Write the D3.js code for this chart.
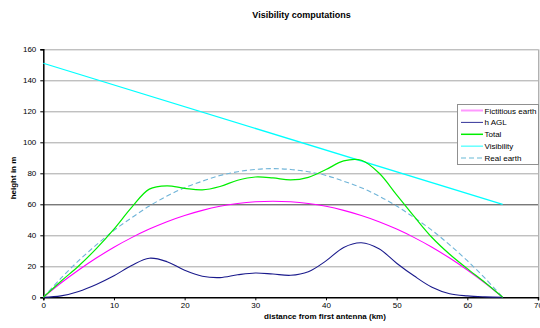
<!DOCTYPE html>
<html>
<head>
<meta charset="utf-8">
<script src="https://cdn.jsdelivr.net/npm/d3@7"></script>
<style>
  body { margin: 0; background: #fff; }
  text { font-family: "Liberation Sans", Arial, sans-serif; fill: #000; }
</style>
</head>
<body>
<div id="chart"></div>
<script>
// Data
var distance = [0, 2.5, 5, 7.5, 10, 12.5, 15, 17.5, 20, 22.5, 25, 27.5, 30, 32.5,
                35, 37.5, 40, 42.5, 45, 47.5, 50, 52.5, 55, 57.5, 60, 62.5, 65];
var fictitiousEarth = [0, 9.2, 17.6, 25.3, 32.3, 38.5, 44.0, 48.8, 52.8, 56.1, 58.7, 60.5, 61.6, 62.0,
                       61.6, 60.5, 58.7, 56.1, 52.8, 48.8, 44.0, 38.5, 32.3, 25.3, 17.6, 9.2, 0];
var hAGL = [0, 0.9, 3.8, 8.3, 13.9, 20.5, 25.2, 23.0, 17.4, 13.6, 12.7, 14.5, 15.7, 15.0,
            14.2, 16.5, 23.5, 32.2, 35.2, 31.3, 22.0, 13.7, 6.5, 2.3, 0.9, 0.3, 0];
var total = [0, 10.4, 20.2, 31.4, 44.0, 58.0, 69.8, 71.9, 70.3, 69.3, 71.5, 75.5, 77.6, 77.0,
             75.7, 77.4, 82.4, 88.0, 88.4, 80.2, 66.1, 52.0, 38.6, 27.8, 18.5, 9.5, 0];
var realEarth = [0, 12.3, 23.6, 33.8, 43.2, 51.3, 58.9, 65.3, 70.7, 74.9, 78.6, 81.0, 82.5, 83.0,
                 82.5, 81.0, 78.6, 74.9, 70.7, 65.3, 58.9, 51.3, 43.2, 33.8, 23.6, 12.3, 0];
var visDistance = [0, 65];
var visibility = [151, 60];

var xTicks = [0, 10, 20, 30, 40, 50, 60, 70];
var yTicks = [0, 20, 40, 60, 80, 100, 120, 140, 160];

var seriesNames = ["Fictitious earth", "h AGL", "Total", "Visibility", "Real earth"];

// Chart space
var svgWidth = 540;
var svgHeight = 328;
var margin = { top: 49.3, right: 2, bottom: 30.7, left: 43.3 };
var width = svgWidth - margin.left - margin.right;
var height = svgHeight - margin.top - margin.bottom;

var svg = d3.select("#chart")
    .append("svg")
    .attr("width", svgWidth)
    .attr("height", svgHeight);

var chartGroup = svg.append("g")
    .attr("transform", `translate(${margin.left}, ${margin.top})`);

// Scales
var xScale = d3.scaleLinear().domain([0, 70]).range([0, 494.7]);
var yScale = d3.scaleLinear().domain([0, 160]).range([height, 0]);

// Gridlines
chartGroup.selectAll(".grid")
    .data(yTicks.filter(d => d > 0))
    .enter()
    .append("line")
    .attr("x1", 0)
    .attr("x2", xScale(70))
    .attr("y1", d => Math.round(yScale(d)) + 0.5)
    .attr("y2", d => Math.round(yScale(d)) + 0.5)
    .attr("stroke", d => d === 60 ? "#404040" : "#a6a6a6")
    .attr("stroke-width", 1);

// right border of plot area
chartGroup.append("line")
    .attr("x1", Math.round(xScale(70)) + 0.5)
    .attr("x2", Math.round(xScale(70)) + 0.5)
    .attr("y1", yScale(160))
    .attr("y2", yScale(0))
    .attr("stroke", "#909090");

// Axes
var bottomAxis = d3.axisBottom(xScale).tickValues(xTicks).tickSize(3).tickPadding(2);
var leftAxis = d3.axisLeft(yScale).tickValues(yTicks).tickSize(3).tickPadding(4);

var xAxisG = chartGroup.append("g")
    .attr("transform", `translate(0, ${height})`)
    .call(bottomAxis);
var yAxisG = chartGroup.append("g")
    .call(leftAxis);

[xAxisG, yAxisG].forEach(function(g) {
    g.select(".domain").attr("stroke", "#000").attr("stroke-width", 1.5);
    g.selectAll(".tick line").attr("stroke", "#000");
    g.selectAll(".tick text")
        .attr("font-size", 8)
        .attr("fill", "#222")
        .style("font-family", "'Liberation Sans', Arial, sans-serif");
});

// Lines
var line = d3.line()
    .x(d => xScale(d[0]))
    .y(d => yScale(d[1]))
    .curve(d3.curveCatmullRom.alpha(0.5));

function pairs(xs, ys) {
    return xs.map((x, i) => [x, ys[i]]);
}

var series = [
    { values: pairs(distance, realEarth), color: "#6fb4d8", width: 1.1, dash: "5,3" },
    { values: pairs(distance, fictitiousEarth), color: "#ff00ff", width: 1.1, dash: null },
    { values: pairs(distance, hAGL), color: "#1a1a8c", width: 1.1, dash: null },
    { values: pairs(visDistance, visibility), color: "#00ffff", width: 1.3, dash: null },
    { values: pairs(distance, total), color: "#00ee00", width: 1.2, dash: null }
];

series.forEach(function(s) {
    chartGroup.append("path")
        .datum(s.values)
        .attr("fill", "none")
        .attr("stroke", s.color)
        .attr("stroke-width", s.width)
        .attr("stroke-dasharray", s.dash)
        .attr("d", line);
});

// Legend
var legendColors = ["#ff99ff", "#333399", "#00ee00", "#66ffff", "#b3dcea"];
var legendWidths = [2, 1, 1.5, 1.5, 2];
var legendDash = [null, null, null, null, "5,3"];

var legend = svg.append("g").attr("transform", "translate(457.5, 104.5)");
legend.append("rect")
    .attr("width", 81)
    .attr("height", 60)
    .attr("fill", "#fff")
    .attr("stroke", "#909090");

var legendItem = legend.selectAll(".item")
    .data(seriesNames)
    .enter()
    .append("g")
    .attr("transform", (d, i) => `translate(0, ${6 + i * 11.9})`);

legendItem.append("line")
    .attr("x1", 3.5)
    .attr("x2", 25.5)
    .attr("y1", 0)
    .attr("y2", 0)
    .attr("stroke", (d, i) => legendColors[i])
    .attr("stroke-width", (d, i) => legendWidths[i])
    .attr("stroke-dasharray", (d, i) => legendDash[i]);

legendItem.append("text")
    .attr("x", 27)
    .attr("y", 3)
    .attr("font-size", 8)
    .text(d => d);

// Title and axis labels
svg.append("text")
    .attr("x", 301.5)
    .attr("y", 18)
    .attr("text-anchor", "middle")
    .attr("font-size", 9)
    .attr("font-weight", "bold")
    .text("Visibility computations");

svg.append("text")
    .attr("x", 325)
    .attr("y", 319)
    .attr("text-anchor", "middle")
    .attr("font-size", 8)
    .attr("font-weight", "bold")
    .text("distance from first antenna (km)");

svg.append("text")
    .attr("transform", "translate(16, 178) rotate(-90)")
    .attr("text-anchor", "middle")
    .attr("font-size", 8)
    .attr("font-weight", "bold")
    .text("height in m");
</script>
</body>
</html>
